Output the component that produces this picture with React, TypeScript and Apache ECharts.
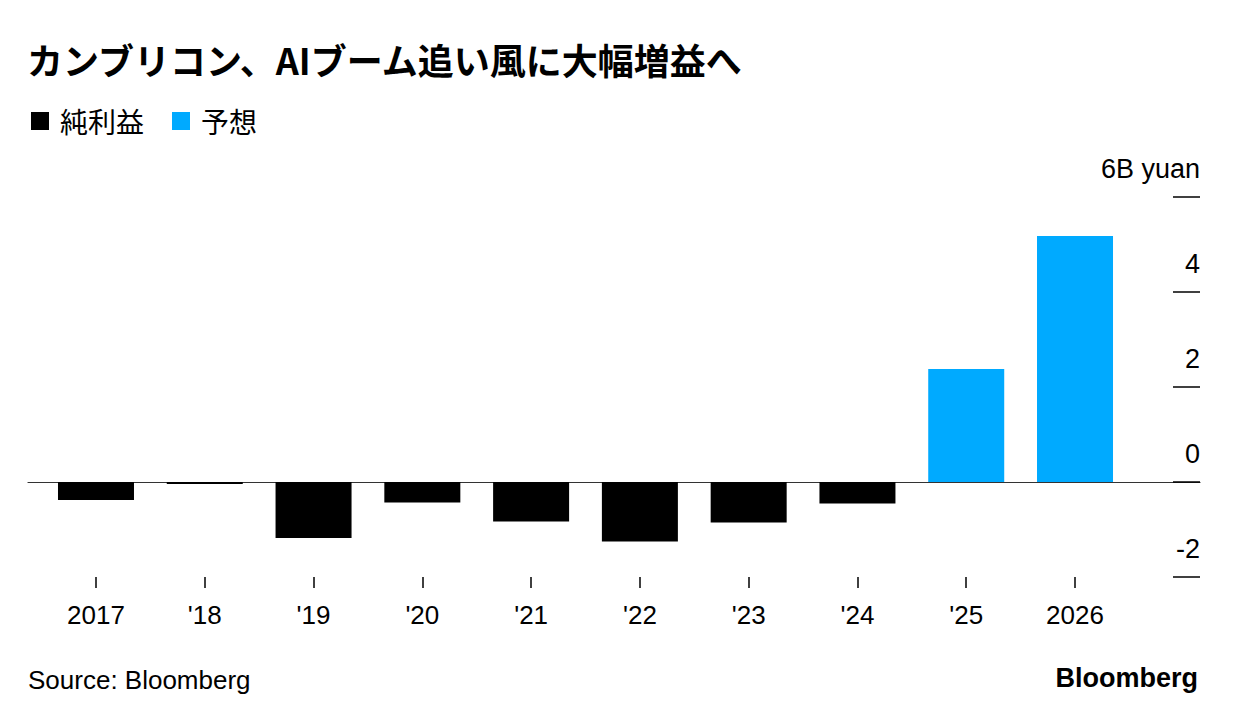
import React, { useEffect, useRef } from "react";
import * as echarts from "echarts";

const categories = ["2017", "'18", "'19", "'20", "'21", "'22", "'23", "'24", "'25", "2026"];
const netProfit = [-0.38, -0.04, -1.18, -0.43, -0.83, -1.25, -0.85, -0.45, null, null];
const forecast = [null, null, null, null, null, null, null, null, 2.38, 5.18];
const yTicks = { min: -2, max: 6, interval: 2 };

const LATIN = "'Liberation Sans', Arial, Helvetica, sans-serif";
const CJK = "'Noto Sans CJK JP', 'Liberation Sans', sans-serif";

export default function App() {
  const ref = useRef<HTMLDivElement>(null);
  useEffect(() => {
    document.body.style.margin = "0";
    const chart = echarts.init(ref.current!, null, { renderer: "svg" });
    const gridTop = 197;
    const gridBottom = 145;
    chart.setOption({
      animation: false,
      backgroundColor: "#ffffff",
      title: {
        text: "カンブリコン、AIブーム追い風に大幅増益へ",
        left: 27,
        top: 41,
        padding: 0,
        textStyle: { fontFamily: CJK, fontSize: 36, fontWeight: "bold", color: "#000" },
      },
      legend: {
        left: 31,
        top: 107,
        padding: 0,
        icon: "rect",
        itemWidth: 18,
        itemHeight: 18,
        itemGap: 28,
        textStyle: { fontFamily: CJK, fontSize: 28, color: "#000", padding: [0, 0, 0, 6] },
        data: ["純利益", "予想"],
      },
      grid: [
        { left: 41.6, right: 106.6, top: gridTop, bottom: gridBottom },
        { left: 28, right: 36, top: gridTop, bottom: gridBottom },
      ],
      xAxis: [
        {
          type: "category",
          gridIndex: 0,
          data: categories,
          axisLine: { show: false, onZero: false },
          axisTick: { show: true, alignWithLabel: true, length: 11, lineStyle: { color: "#000", width: 1.5 } },
          axisLabel: { fontFamily: LATIN, fontSize: 26, color: "#000", margin: 25 },
          splitLine: { show: false },
        },
        {
          type: "value",
          gridIndex: 1,
          min: 0,
          max: 1,
          axisLine: { show: true, onZero: true, lineStyle: { color: "#333", width: 1.2 } },
          axisTick: { show: false },
          axisLabel: { show: false },
          splitLine: { show: false },
        },
      ],
      yAxis: [
        {
          type: "value",
          gridIndex: 0,
          min: yTicks.min,
          max: yTicks.max,
          interval: yTicks.interval,
          show: false,
          axisLine: { onZero: false },
          splitLine: { show: false },
        },
        {
          type: "value",
          gridIndex: 1,
          position: "right",
          min: yTicks.min,
          max: yTicks.max,
          interval: yTicks.interval,
          axisLine: { show: false, onZero: false },
          axisTick: { show: true, inside: true, length: 27, lineStyle: { color: "#000", width: 1.5 } },
          axisLabel: {
            inside: true,
            margin: 0,
            align: "right",
            verticalAlign: "bottom",
            padding: [0, 0, 15, 0],
            fontFamily: LATIN,
            fontSize: 27,
            color: "#000",
            formatter: (v: number) => (v === yTicks.max ? `${v}B yuan` : `${v}`),
          },
          splitLine: { show: false },
        },
      ],
      series: [
        {
          name: "純利益",
          type: "bar",
          xAxisIndex: 0,
          yAxisIndex: 0,
          data: netProfit,
          barWidth: 76,
          barGap: "-100%",
          itemStyle: { color: "#000000" },
        },
        {
          name: "予想",
          type: "bar",
          xAxisIndex: 0,
          yAxisIndex: 0,
          data: forecast,
          barWidth: 76,
          barGap: "-100%",
          itemStyle: { color: "#00aaff" },
        },
      ],
      graphic: [
        {
          type: "text",
          left: 28,
          top: 667,
          style: { text: "Source: Bloomberg", fontFamily: LATIN, fontSize: 26, fill: "#000" },
        },
        {
          type: "text",
          right: 38,
          top: 664,
          style: { text: "Bloomberg", fontFamily: LATIN, fontSize: 27, fontWeight: "bold", fill: "#000" },
        },
      ],
    });
    return () => chart.dispose();
  }, []);
  return <div ref={ref} style={{ width: 1236, height: 722, position: "absolute", left: 0, top: 0 }} />;
}
